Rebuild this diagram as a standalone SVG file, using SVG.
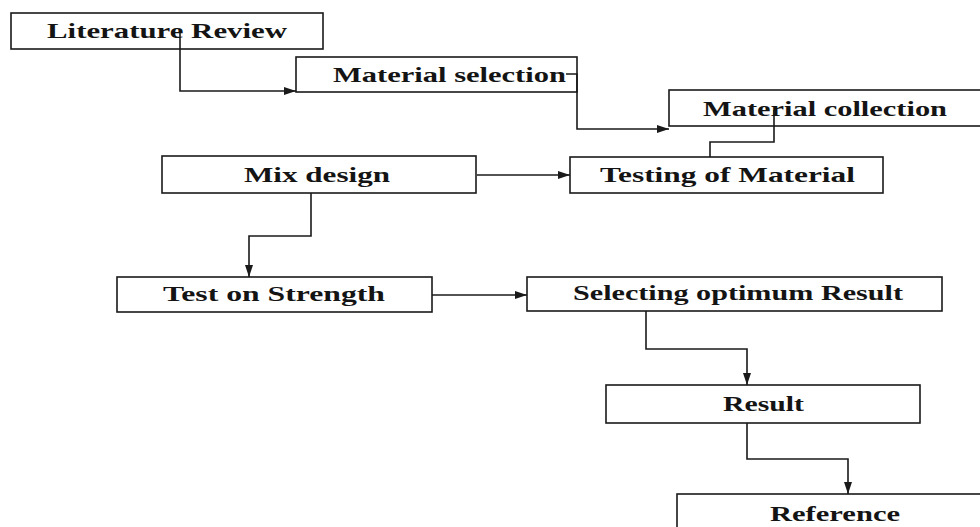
<svg xmlns="http://www.w3.org/2000/svg" width="980" height="527" viewBox="0 0 980 527">
<style>
.box{fill:#fff;stroke:#1a1a1a;stroke-width:1.6}
.lbl{font-family:"Liberation Serif","Times New Roman",serif;font-weight:bold;font-size:21px;fill:#141414}
.con{fill:none;stroke:#1a1a1a;stroke-width:1.6}
</style>
<defs>
<marker id="arr" markerUnits="userSpaceOnUse" markerWidth="13" markerHeight="10" refX="12" refY="5" orient="auto">
<path d="M0,1 L12,5 L0,9 Z" fill="#1a1a1a"/>
</marker>
</defs>
<rect width="980" height="527" fill="#fff"/>
<g id="lit"><rect class="box" x="11" y="13" width="312" height="36"/><text class="lbl" x="47" y="38" textLength="240" lengthAdjust="spacingAndGlyphs">Literature Review</text></g>
<g id="matsel"><rect class="box" x="296" y="57" width="281" height="35"/><text class="lbl" x="333" y="82" textLength="233" lengthAdjust="spacingAndGlyphs">Material selection</text></g>
<g id="matcol"><rect class="box" x="669" y="90" width="313" height="36"/><text class="lbl" x="703" y="116" textLength="244" lengthAdjust="spacingAndGlyphs">Material collection</text></g>
<g id="testing"><rect class="box" x="570" y="157" width="313" height="36"/><text class="lbl" x="600" y="182" textLength="255" lengthAdjust="spacingAndGlyphs">Testing of Material</text></g>
<g id="mix"><rect class="box" x="162" y="156" width="314" height="37"/><text class="lbl" x="244" y="182" textLength="146" lengthAdjust="spacingAndGlyphs">Mix design</text></g>
<g id="strength"><rect class="box" x="117" y="277" width="315" height="35"/><text class="lbl" x="163" y="301" textLength="222" lengthAdjust="spacingAndGlyphs">Test on Strength</text></g>
<g id="selecting"><rect class="box" x="527" y="277" width="415" height="34"/><text class="lbl" x="573" y="300" textLength="330" lengthAdjust="spacingAndGlyphs">Selecting optimum Result</text></g>
<g id="result"><rect class="box" x="606" y="385" width="314" height="38"/><text class="lbl" x="723" y="411" textLength="81" lengthAdjust="spacingAndGlyphs">Result</text></g>
<g id="reference"><rect class="box" x="677" y="494" width="305" height="40"/><text class="lbl" x="770" y="521" textLength="130" lengthAdjust="spacingAndGlyphs">Reference</text></g>
<g id="connectors">
<path class="con" d="M180,33 V91 H296" marker-end="url(#arr)"/>
<path class="con" d="M566,74 H577 V129 H669" marker-end="url(#arr)"/>
<path class="con" d="M710,157 V142 H774 V110"/>
<path class="con" d="M477,175 H570" marker-end="url(#arr)"/>
<path class="con" d="M311,193 V236 H249 V277" marker-end="url(#arr)"/>
<path class="con" d="M432,295 H527" marker-end="url(#arr)"/>
<path class="con" d="M646,311 V349 H747 V385" marker-end="url(#arr)"/>
<path class="con" d="M747,423 V459 H848 V494" marker-end="url(#arr)"/>
</g>
</svg>
